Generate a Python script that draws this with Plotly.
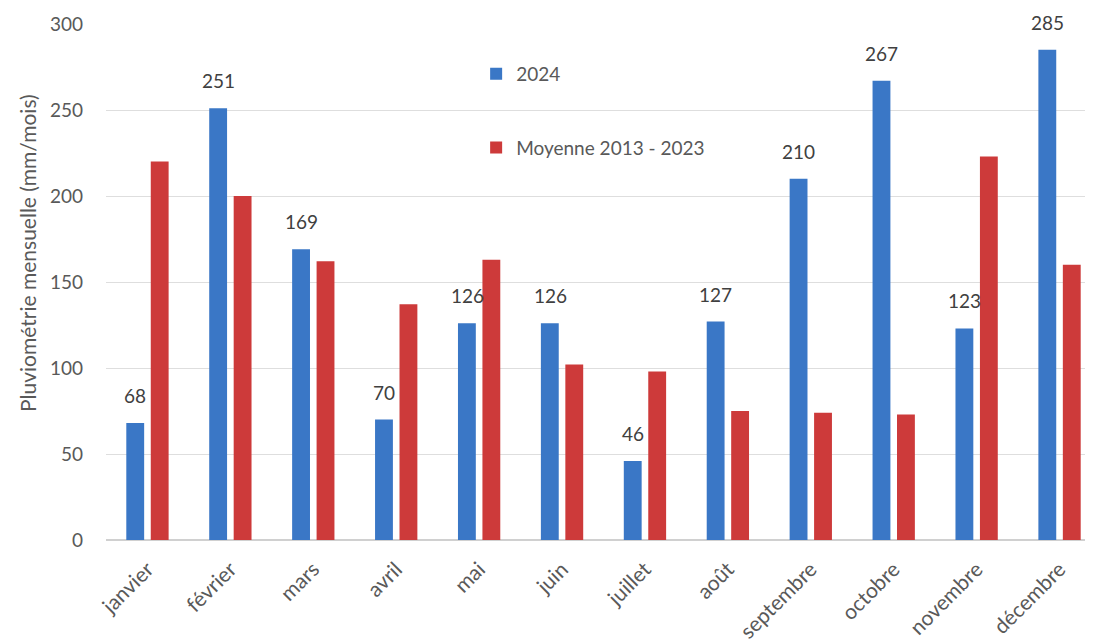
import plotly.graph_objects as go

months = ["janvier", "février", "mars", "avril", "mai", "juin", "juillet",
          "août", "septembre", "octobre", "novembre", "décembre"]
rain_2024 = [68, 251, 169, 70, 126, 126, 46, 127, 210, 267, 123, 285]
rain_avg = [220, 200, 162, 137, 163, 102, 98, 75, 74, 73, 223, 160]

FONT = "Lato, Open Sans, sans-serif"
TXT = "#595959"
W, H = 1093, 644
ML, MT, MB = 98, 16, 112

fig = go.Figure()
fig.add_trace(go.Bar(
    x=months, y=rain_2024, name="2024", legendgroup="a",
    marker=dict(color="#3a77c6", line=dict(width=0)),
))
fig.add_trace(go.Bar(
    x=months, y=rain_avg, name="Moyenne 2013 - 2023", legendgroup="b",
    marker=dict(color="#cd3a3a", line=dict(width=0)),
))

annotations = []
for m, v in zip(months, rain_2024):
    annotations.append(dict(
        x=m, y=v, xref="x", yref="y", text=str(v), showarrow=False,
        xanchor="center", yanchor="bottom", xshift=-12, yshift=14,
        font=dict(size=19, color="#404040", family=FONT),
    ))
# y-axis title
plot_w = W - ML
plot_h = H - MB - MT
annotations.append(dict(
    x=(19 - ML) / plot_w, y=(H - MB - 245) / plot_h,
    xref="paper", yref="paper", text="Pluviométrie mensuelle (mm/mois)",
    textangle=-90, showarrow=False, xanchor="center", yanchor="middle",
    font=dict(size=21, color=TXT, family=FONT),
))

fig.update_layout(
    width=W, height=H,
    margin=dict(l=ML, r=0, t=MT, b=MB),
    paper_bgcolor="white", plot_bgcolor="white",
    barmode="group", bargap=0.41, bargroupgap=0.27,
    font=dict(family=FONT, size=19, color=TXT),
    showlegend=True,
    legend=dict(x=0.372, y=0.94, xanchor="left", yanchor="top",
                bgcolor="rgba(0,0,0,0)", tracegroupgap=46,
                font=dict(size=19, color=TXT, family=FONT)),
    annotations=annotations,
    xaxis=dict(range=[-0.5, 11.5], tickangle=-45, showgrid=False,
               showline=False, ticks="", automargin=False,
               ticklabelstandoff=12,
               tickfont=dict(size=21, color=TXT, family=FONT)),
    yaxis=dict(range=[0, 300], dtick=50, showgrid=True, gridcolor="#dedede",
               gridwidth=1, zeroline=True, zerolinecolor="#d0d0d0",
               showline=False, ticks="", ticklabelstandoff=22,
               automargin=False,
               tickfont=dict(size=19, color=TXT, family=FONT)),
)

fig.write_html("out.html")
